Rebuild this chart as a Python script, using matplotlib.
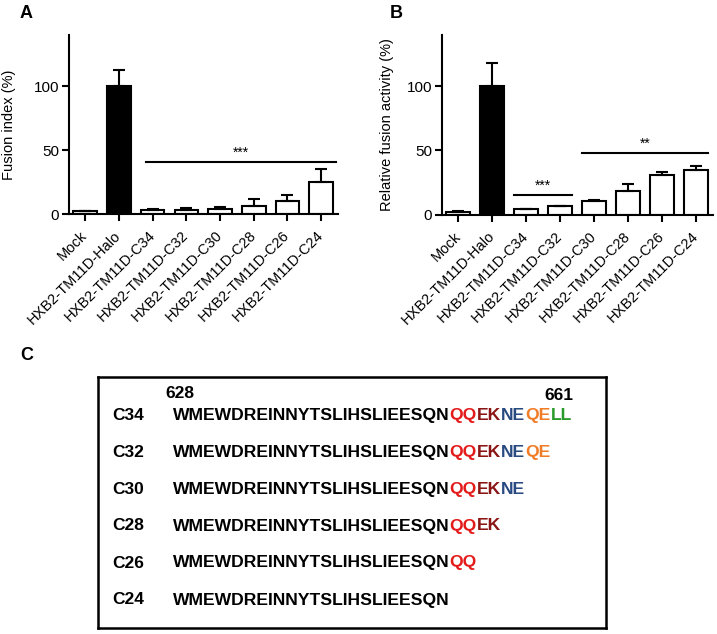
import numpy as np
import matplotlib
matplotlib.use("Agg")
import matplotlib.pyplot as plt

plt.rcParams['font.family'] = ['Liberation Sans', 'DejaVu Sans']

categories = ["Mock", "HXB2-TM11D-Halo", "HXB2-TM11D-C34", "HXB2-TM11D-C32",
              "HXB2-TM11D-C30", "HXB2-TM11D-C28", "HXB2-TM11D-C26", "HXB2-TM11D-C24"]

# panel A: fusion index (%)
fusion_index = [2, 100, 3, 3.5, 4, 6, 10, 25]
fusion_index_err = [0.6, 12.5, 1, 1, 1.2, 5.5, 4.7, 10.5]

# panel B: relative fusion activity (%)
fusion_activity = [2, 100, 4, 6.5, 10.5, 18, 30.5, 34.4]
fusion_activity_err = [0.5, 18, 0.5, 0.3, 0.5, 6, 3, 3.5]

# significance bars: (from, to, height, label)
sig_a = [(1.8, 7.45, 40.5, "***")]
sig_b = [(1.65, 3.35, 15, "***"), (3.65, 7.35, 48, "**")]

# panel C: C-terminal peptide sequences
peptide_names = ["C34", "C32", "C30", "C28", "C26", "C24"]
core_seq = "WMEWDREINNYTSLIHSLIEESQN"
tail_segments = [
    [("QQ", "#e41b1b"), ("EK", "#8b1414"), ("NE", "#284a80"), ("QE", "#f07c28"), ("LL", "#2a9a2a")],
    [("QQ", "#e41b1b"), ("EK", "#8b1414"), ("NE", "#284a80"), ("QE", "#f07c28")],
    [("QQ", "#e41b1b"), ("EK", "#8b1414"), ("NE", "#284a80")],
    [("QQ", "#e41b1b"), ("EK", "#8b1414")],
    [("QQ", "#e41b1b")],
    [],
]
residue_start, residue_end = "628", "661"

W, H = 717, 634
fig = plt.figure(figsize=(W / 100, H / 100), dpi=100)


def px_axes(x0, y0, x1, y1):
    # pixel box (top-left origin) -> figure axes
    return fig.add_axes([x0 / W, 1 - y1 / H, (x1 - x0) / W, (y1 - y0) / H])


def bar_panel(ax, values, errs, ylabel, sigs, labelpad):
    x = np.arange(len(categories))
    colors = ["white"] * len(values)
    colors[1] = "black"
    ax.bar(x, values, width=0.7, color=colors, edgecolor="black", linewidth=1.5, zorder=2)
    ax.errorbar(x, values, yerr=[np.zeros(len(errs)), errs], fmt="none", ecolor="black",
                elinewidth=1.5, capsize=4.5, capthick=1.5, zorder=3)
    ax.set_xlim(-0.48, 7.5)
    ax.set_ylim(0, 140)
    ax.set_yticks([0, 50, 100])
    ax.set_xticks(x)
    ax.set_xticklabels(categories, rotation=45, ha="right", va="center",
                       rotation_mode="anchor", fontsize=10.5)
    ax.tick_params(axis="both", width=1.5, length=5)
    ax.tick_params(axis="y", pad=2, labelsize=11)
    ax.tick_params(axis="x", pad=9)
    for s in ["top", "right"]:
        ax.spines[s].set_visible(False)
    for s in ["left", "bottom"]:
        ax.spines[s].set_linewidth(1.5)
    ax.set_ylabel(ylabel, fontsize=10.5, labelpad=labelpad)
    for x0, x1, h, lab in sigs:
        ax.plot([x0, x1], [h, h], color="black", lw=1.5, clip_on=False)
        ax.text((x0 + x1) / 2, h + 2, lab, ha="center", va="bottom", fontsize=10)


ax_a = px_axes(69, 35, 338, 214)
bar_panel(ax_a, fusion_index, fusion_index_err, "Fusion index (%)", sig_a, 13)

ax_b = px_axes(442, 35, 713, 214.5)
bar_panel(ax_b, fusion_activity, fusion_activity_err, "Relative fusion activity (%)", sig_b, 9)

fig.text(20 / W, 1 - 13 / H, "A", fontsize=13, fontweight="bold", va="center")
fig.text(390 / W, 1 - 13 / H, "B", fontsize=13, fontweight="bold", va="center")
fig.text(20 / W, 1 - 356 / H, "C", fontsize=13, fontweight="bold", va="center")

# panel C box, drawn in pixel units (1 data unit = 1 pixel)
ax_c = px_axes(98, 377, 606, 628)
ax_c.set_xlim(98, 606)
ax_c.set_ylim(628, 377)
ax_c.set_xticks([])
ax_c.set_yticks([])
for s in ax_c.spines.values():
    s.set_linewidth(1.8)

seq_fs = 12.6
seq_x = 173
renderer = fig.canvas.get_renderer()


def text_width(s):
    t = ax_c.text(0, 0, s, fontsize=seq_fs, fontweight="bold")
    w = t.get_window_extent(renderer).width
    t.remove()
    return w


ax_c.text(165, 393, residue_start, fontsize=12.5, fontweight="bold", va="center")
ax_c.text(573, 395, residue_end, fontsize=12.5, fontweight="bold", va="center", ha="right")
for i, name in enumerate(peptide_names):
    y = 415 + 37 * i
    ax_c.text(112, y, name, fontsize=12.5, fontweight="bold", va="center")
    ax_c.text(seq_x, y, core_seq, fontsize=seq_fs, fontweight="bold", va="center")
    prefix = core_seq
    for seg, col in tail_segments[i]:
        prefix = prefix + seg
        # right edge of this segment = right edge of the whole prefix string
        ax_c.text(seq_x + text_width(prefix), y, seg, fontsize=seq_fs, fontweight="bold",
                  va="center", ha="right", color=col)

fig.savefig("out.png", dpi=100)
